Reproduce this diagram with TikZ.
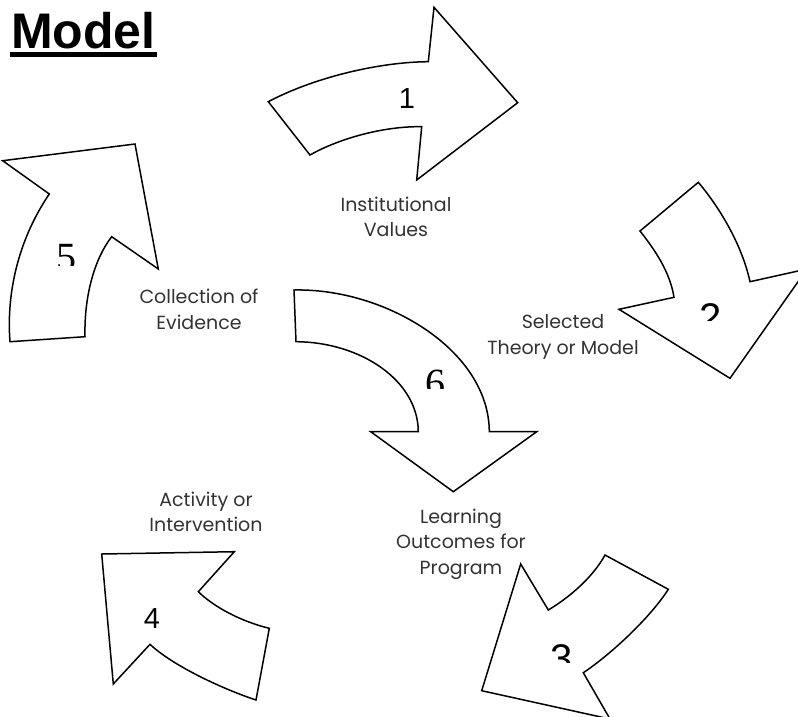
\documentclass[tikz,border=0pt]{standalone}
\usepackage{fontspec}
\setmainfont{Poppins}
\newfontfamily\arialfont{Liberation Sans}
\newfontfamily\seriffont{Liberation Serif}
\begin{document}
\begin{tikzpicture}[x=1pt,y=-1pt,
  arrowshape/.style={draw=black, line width=1.5pt, line join=miter, fill=white},
  lbl/.style={align=center, font=\fontsize{19}{25.5}\selectfont, text=black!80, inner sep=0pt, anchor=base},
  sdigit/.style={font=\arialfont\fontsize{29}{30}\selectfont, inner sep=0pt, anchor=base},
  bdigit/.style={font=\arialfont\fontsize{40}{40}\selectfont, inner sep=0pt, anchor=base},
  rdigit/.style={font=\seriffont\fontsize{40}{40}\selectfont, inner sep=0pt, anchor=base}]
\useasboundingbox (0,0) rectangle (798,716);
\clip (0,0) rectangle (798,716);

% title
\node[font=\arialfont\bfseries\fontsize{50}{50}\selectfont, inner sep=0pt, anchor=base west] (title) at (11,48.3) {Model};
\draw[line width=4.5pt] ([yshift=-6pt,xshift=-1pt]title.base west) -- ([yshift=-6pt,xshift=1pt]title.base east);

% arrow 1
\draw[arrowshape] (268.3,101.7) .. controls (315,77) and (380,62) .. (428.3,61.7) -- (434,7.3) -- (517.7,102.7) -- (416.7,180) -- (421.7,126.7) .. controls (385,126) and (340,138) .. (310,155) -- cycle;
% arrow 2
\draw[arrowshape] (698.3,182.3) .. controls (720,208) and (742,245) .. (750,281.7) -- (807,269) -- (730,378.3) -- (619,309.3) -- (674,297.3) .. controls (670,272) and (655,250) .. (640,231) -- cycle;
% arrow 3
\draw[arrowshape] (548.3,610) .. controls (570,597) and (593,577) .. (605,555) -- (668.3,589.3) .. controls (650,618) and (610,655) .. (583.3,672.7) -- (610,719) -- (481.7,690.7) -- (520.7,564) -- cycle;
% arrow 4
\draw[arrowshape] (101.7,554) -- (234.3,551.7) -- (198.3,591.7) .. controls (215,608) and (243,622) .. (269.3,628.3) -- (256,700) .. controls (220,688) and (172,665) .. (150,644.3) -- (113.3,684) -- cycle;
% arrow 5
\draw[arrowshape] (2.7,160.7) -- (135,144) -- (158.3,269) -- (111.7,236.7) .. controls (95,258) and (84,295) .. (85,336.7) -- (10,341.7) .. controls (6,290) and (20,237) .. (49.3,194) -- cycle;
% arrow 6
\draw[arrowshape] (294,290) .. controls (385,288) and (489,350) .. (489.3,431.7) -- (536.7,431.7) -- (453.3,491.7) -- (370.7,431.7) -- (418.3,431.7) .. controls (418,380) and (360,342) .. (296,341.7) -- cycle;

% digits
\node[sdigit] (d1) at (407,108.3) {1};
\node[sdigit] (d4) at (152,628) {4};
\begin{scope}
  \clip (540,630) rectangle (590,662);
  \node[bdigit] (d3) at (562,672) {3};
\end{scope}
\begin{scope}
  \clip (690,290) rectangle (735,320);
  \node[bdigit] (d2) at (711,331) {2};
\end{scope}
\begin{scope}
  \clip (45,230) rectangle (90,265);
  \node[rdigit] (d5) at (66.7,270) {5};
\end{scope}
\begin{scope}
  \clip (415,355) rectangle (460,388);
  \node[rdigit] (d6) at (435.5,396) {6};
\end{scope}

% labels (anchor = baseline of last line)
\node[lbl] (l1) at (396,236.7) {Institutional\\Values};
\node[lbl] (l2) at (563,354) {Selected\\Theory or Model};
\node[lbl] (l3) at (461,574) {Learning\\Outcomes for\\Program};
\node[lbl] (l4) at (206,531.7) {Activity or\\Intervention};
\node[lbl] (l5) at (199,329) {Collection of\\Evidence};
\end{tikzpicture}
\end{document}
